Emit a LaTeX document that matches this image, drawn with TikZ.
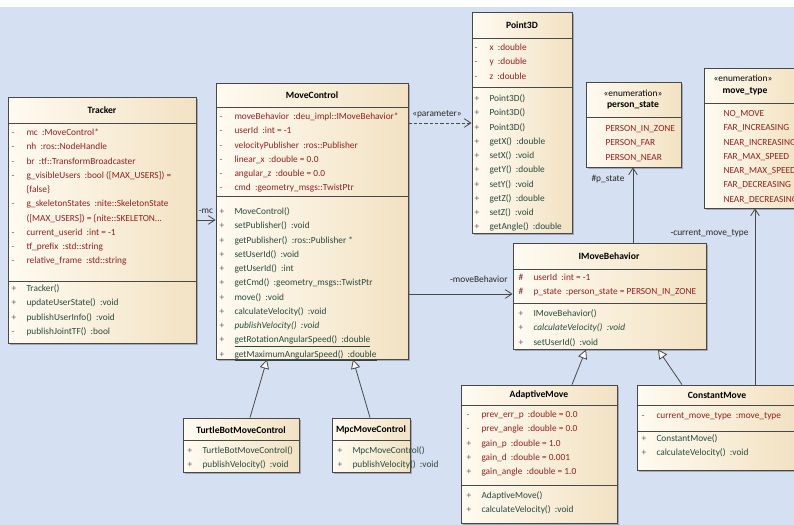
\documentclass[tikz,border=0pt]{standalone}
\usepackage{fontspec}
\setmainfont{Carlito}
\usetikzlibrary{arrows.meta,fit,shadows}

\definecolor{bgblue}{RGB}{214,224,243}
\definecolor{boxlight}{RGB}{255,251,241}
\definecolor{boxdark}{RGB}{242,226,195}
\definecolor{boxline}{RGB}{72,72,72}
\definecolor{attrred}{RGB}{140,34,34}
\definecolor{opgreen}{RGB}{40,74,62}
\definecolor{visgray}{RGB}{95,95,95}

% one compartment line: visibility mark + member text
\newcommand{\vis}[2]{\strut\makebox[11.25pt][l]{\textcolor{visgray}{#1}}#2}

\tikzset{every picture/.style={line width=0.75pt}}
\tikzset{
  classbox/.style={draw=boxline, left color=boxlight, right color=boxdark, inner sep=0pt, line width=0.6pt,
    drop shadow={shadow xshift=1.2pt, shadow yshift=-1.2pt, fill=black, opacity=0.25}},
  sepline/.style={draw=boxline, line width=0.6pt},
  hdr/.style={font=\fontsize{7.2}{9}\selectfont\bfseries, inner sep=0.75pt},
  stereo/.style={font=\fontsize{7}{9}\selectfont, inner sep=0.75pt},
  cmp/.style={anchor=north west, align=left, inner sep=0pt, font=\fontsize{7}{10.7}\selectfont},
  attrs/.style={cmp, text=attrred},
  ops/.style={cmp, text=opgreen},
  lbl/.style={font=\fontsize{7}{8}\selectfont, inner sep=0.75pt, text=black!85},
  assoc/.style={draw=boxline, line width=0.6pt, -{Straight Barb[length=5pt,width=6.5pt]}},
  gen/.style={draw=boxline, line width=0.6pt, -{Triangle[fill=white,length=7pt,width=7pt]}},
}

\begin{document}
\begin{tikzpicture}[x=0.75pt,y=0.75pt,yscale=-1,xscale=1]
\useasboundingbox (0,0) rectangle (794,525);
\clip (0,0) rectangle (794,525);

%Shape: Background
\fill[white] (0,0) rectangle (794,525);
\fill[bgblue] (0,7) rectangle (794,525);

%Shape: Rectangle -- Tracker
\node[classbox, fit={(8,97) (196,343)}] (tracker) {};
\draw[sepline] (tracker.west |- 0,123) -- (tracker.east |- 0,123);
\draw[sepline] (tracker.west |- 0,281) -- (tracker.east |- 0,281);
% Text Node
\node[hdr] (trackername) at (102,110) {Tracker};
\node[attrs] (trackerattr) at (11,125) {\vis{-}{mc~ :MoveControl*}\\ \vis{-}{nh~ :ros::NodeHandle}\\ \vis{-}{br~ :tf::TransformBroadcaster}\\
  \vis{-}{g\_visibleUsers~ :bool ([MAX\_USERS]) =}\\ \vis{}{\{false\}}\\ \vis{-}{g\_skeletonStates~ :nite::SkeletonState}\\
  \vis{}{([MAX\_USERS]) = \{nite::SKELETON...}\\ \vis{-}{current\_userid~ :int = -1}\\ \vis{-}{tf\_prefix~ :std::string}\\ \vis{-}{relative\_frame~ :std::string}};
\node[ops] (trackerops) at (11,281) {\vis{+}{Tracker()}\\ \vis{+}{updateUserState()~ :void}\\ \vis{+}{publishUserInfo()~ :void}\\ \vis{-}{publishJointTF()~ :bool}};

%Shape: Rectangle -- MoveControl
\node[classbox, fit={(216,83) (408,359)}] (mc) {};
\draw[sepline] (mc.west |- 0,107) -- (mc.east |- 0,107);
\draw[sepline] (mc.west |- 0,196) -- (mc.east |- 0,196);
% Text Node
\node[hdr] (mcname) at (312,95) {MoveControl};
\node[attrs] (mcattr) at (219,109) {\vis{-}{moveBehavior~ :deu\_impl::IMoveBehavior*}\\ \vis{-}{userId~ :int = -1}\\ \vis{-}{velocityPublisher~ :ros::Publisher}\\
  \vis{-}{linear\_x~ :double = 0.0}\\ \vis{-}{angular\_z~ :double = 0.0}\\ \vis{-}{cmd~ :geometry\_msgs::TwistPtr}};
\node[ops] (mcops) at (219,204) {\vis{+}{MoveControl()}\\ \vis{+}{setPublisher()~ :void}\\ \vis{+}{getPublisher()~ :ros::Publisher *}\\ \vis{+}{setUserId()~ :void}\\
  \vis{+}{getUserId()~ :int}\\ \vis{+}{getCmd()~ :geometry\_msgs::TwistPtr}\\ \vis{+}{move()~ :void}\\ \vis{+}{calculateVelocity()~ :void}\\
  \vis{+}{\textit{publishVelocity()~ :void}}\\ \vis{+}{\underline{getRotationAngularSpeed()~ :double}}\\ \vis{+}{\underline{getMaximumAngularSpeed()~ :double}}};

%Shape: Rectangle -- Point3D
\node[classbox, fit={(472,12) (572,233)}] (point) {};
\draw[sepline] (point.west |- 0,38) -- (point.east |- 0,38);
\draw[sepline] (point.west |- 0,87) -- (point.east |- 0,87);
% Text Node
\node[hdr] (pointname) at (522,25) {Point3D};
\node[attrs] (pointattr) at (474,40) {\vis{-}{x~ :double}\\ \vis{-}{y~ :double}\\ \vis{-}{z~ :double}};
\node[ops] (pointops) at (474,91) {\vis{+}{Point3D()}\\ \vis{+}{Point3D()}\\ \vis{+}{Point3D()}\\ \vis{+}{getX()~ :double}\\ \vis{+}{setX()~ :void}\\
  \vis{+}{getY()~ :double}\\ \vis{+}{setY()~ :void}\\ \vis{+}{getZ()~ :double}\\ \vis{+}{setZ()~ :void}\\ \vis{+}{getAngle()~ :double}};

%Shape: Rectangle -- person_state
\node[classbox, fit={(586,82) (681,167)}] (pstate) {};
\draw[sepline] (pstate.west |- 0,117) -- (pstate.east |- 0,117);
% Text Node
\node[stereo] (pstatestereo) at (633,93) {«enumeration»};
\node[hdr] (pstatename) at (633,105) {person\_state};
\node[attrs] (pstateitems) at (605,121) {\strut PERSON\_IN\_ZONE\\ \strut PERSON\_FAR\\ \strut PERSON\_NEAR};

%Shape: Rectangle -- move_type
\node[classbox, fit={(704,68) (800,208)}] (mtype) {};
\draw[sepline] (mtype.west |- 0,103) -- (mtype.east |- 0,103);
% Text Node
\node[stereo] (mtypestereo) at (743,78) {«enumeration»};
\node[hdr] (mtypename) at (745,91) {move\_type};
\node[attrs] (mtypeitems) at (723,106) {\strut NO\_MOVE\\ \strut FAR\_INCREASING\\ \strut NEAR\_INCREASING\\ \strut FAR\_MAX\_SPEED\\
  \strut NEAR\_MAX\_SPEED\\ \strut FAR\_DECREASING\\ \strut NEAR\_DECREASING};

%Shape: Rectangle -- IMoveBehavior
\node[classbox, fit={(513,243) (706,349)}] (imb) {};
\draw[sepline] (imb.west |- 0,269) -- (imb.east |- 0,269);
\draw[sepline] (imb.west |- 0,303) -- (imb.east |- 0,303);
% Text Node
\node[hdr] (imbname) at (609,256) {IMoveBehavior};
\node[attrs] (imbattr) at (518,270) {\vis{\textcolor{attrred}{\#}}{userId~ :int = -1}\\ \vis{\textcolor{attrred}{\#}}{p\_state~ :person\_state = PERSON\_IN\_ZONE}};
\node[ops] (imbops) at (518,306) {\vis{+}{IMoveBehavior()}\\ \vis{+}{\textit{calculateVelocity()~ :void}}\\ \vis{+}{setUserId()~ :void}};

%Shape: Rectangle -- TurtleBotMoveControl
\node[classbox, fit={(183,418) (299,472)}] (turtle) {};
\draw[sepline] (turtle.west |- 0,440) -- (turtle.east |- 0,440);
% Text Node
\node[hdr] (turtlename) at (241,430) {TurtleBotMoveControl};
\node[ops] (turtleops) at (187,443) {\vis{+}{TurtleBotMoveControl()}\\ \vis{+}{publishVelocity()~ :void}};

%Shape: Rectangle -- MpcMoveControl
\node[classbox, fit={(332,418) (410,472)}] (mpc) {};
\draw[sepline] (mpc.west |- 0,440) -- (mpc.east |- 0,440);
% Text Node
\node[hdr] (mpcname) at (371,430) {MpcMoveControl};
\node[ops] (mpcops) at (337,443) {\vis{+}{MpcMoveControl()}\\ \vis{+}{publishVelocity()~ :void}};

%Shape: Rectangle -- AdaptiveMove
\node[classbox, fit={(461,385) (617,523)}] (adaptive) {};
\draw[sepline] (adaptive.west |- 0,405) -- (adaptive.east |- 0,405);
\draw[sepline] (adaptive.west |- 0,485) -- (adaptive.east |- 0,485);
% Text Node
\node[hdr] (adaptivename) at (539,395) {AdaptiveMove};
\node[attrs] (adaptiveattr) at (466,407) {\vis{-}{prev\_err\_p~ :double = 0.0}\\ \vis{-}{prev\_angle~ :double = 0.0}\\ \vis{+}{gain\_p~ :double = 1.0}\\
  \vis{+}{gain\_d~ :double = 0.001}\\ \vis{+}{gain\_angle~ :double = 1.0}};
\node[ops] (adaptiveops) at (466,488) {\vis{+}{AdaptiveMove()}\\ \vis{+}{calculateVelocity()~ :void}};

%Shape: Rectangle -- ConstantMove
\node[classbox, fit={(637,385) (794,470)}] (constant) {};
\draw[sepline] (constant.west |- 0,405) -- (constant.east |- 0,405);
\draw[sepline] (constant.west |- 0,431) -- (constant.east |- 0,431);
% Text Node
\node[hdr] (constantname) at (717,395) {ConstantMove};
\node[attrs] (constantattr) at (641,408) {\vis{-}{current\_move\_type~ :move\_type}};
\node[ops] (constantops) at (641,431) {\vis{+}{ConstantMove()}\\ \vis{+}{calculateVelocity()~ :void}};

%Straight Lines -- associations
\draw[assoc] (tracker.east |- 0,220) -- (mc.west |- 0,220);
\draw[assoc, dash pattern={on 2.5pt off 1.5pt}] (mc.east |- 0,123) -- (point.west |- 0,123);
\draw[assoc] (mc.east |- 0,294) -- (imb.west |- 0,294);
\draw[assoc] (imb.north -| 633,0) -- (pstate.south -| 633,0);
\draw[assoc] (constant.north -| 755,0) -- (mtype.south -| 755,0);
%Straight Lines -- generalizations
\draw[gen] (turtle.north -| 250,0) -- (mc.south -| 267,0);
\draw[gen] (mpc.north -| 370,0) -- (mc.south -| 353,0);
\draw[gen] (adaptive.north -| 572,0) -- (imb.south -| 586,0);
\draw[gen] (constant.north -| 682,0) -- (imb.south -| 658,0);

% Text Node
\node[lbl] (mclbl) at (206,211) {-mc};
\node[lbl] (paramlbl) at (437,114) {«parameter»};
\node[lbl, anchor=east] (behaviorlbl) at (509,279) {-moveBehavior};
\node[lbl] (pstatelbl) at (608,179) {\#p\_state};
\node[lbl, anchor=east] (movetypelbl) at (750,233) {-current\_move\_type};

\end{tikzpicture}
\end{document}
